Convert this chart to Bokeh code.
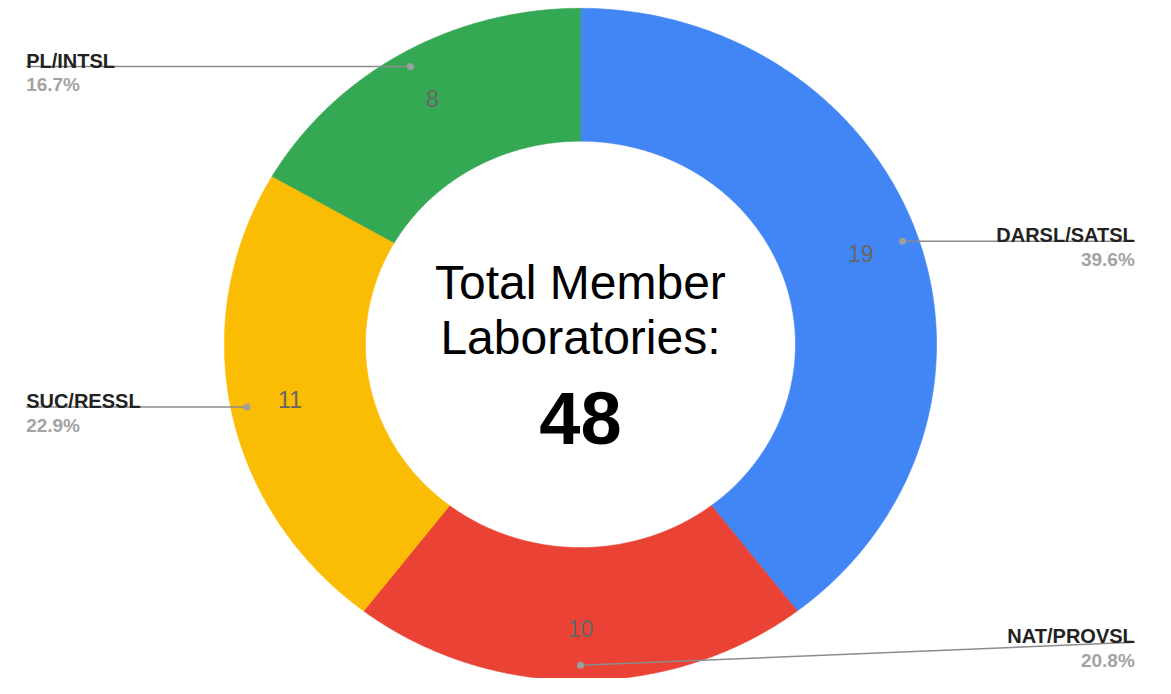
import numpy as np
from bokeh.plotting import figure
from bokeh.models import Range1d, ColumnDataSource
from bokeh.core.properties import value
from bokeh.embed import file_html
from bokeh.resources import INLINE

# ---- data ----
categories = ["DARSL/SATSL", "NAT/PROVSL", "SUC/RESSL", "PL/INTSL"]
counts = [19, 10, 11, 8]
colors = ["#4285F4", "#EA4335", "#FBBC04", "#34A853"]
center_lines = ["Total Member", "Laboratories:"]

total = sum(counts)

# ---- geometry (pixel-like data units) ----
CX, CY = 588, 352
RX_OUT, RY_OUT = 361, 344
RX_IN, RY_IN = 218, 208
LABEL_TX, LABEL_TY = 0.575, 0.61
DOT_F = 0.955
LEFT_X, RIGHT_X = 26, 1150
BOTTOM_LIMIT = 657
FONT = "Liberation Sans"

p = figure(width=1155, height=678, x_range=Range1d(0, 1171), y_range=Range1d(694, 0),
           output_backend="svg", toolbar_location=None, min_border=0)
p.axis.visible = False
p.grid.visible = False
p.outline_line_color = None
p.background_fill_color = "white"
p.border_fill_color = "white"

frac = np.array(counts, dtype=float) / total
ends = np.cumsum(frac) * 2 * np.pi
starts = ends - frac * 2 * np.pi
mids = (starts + ends) / 2

xs, ys = [], []
for a0, a1 in zip(starts, ends):
    t = np.linspace(a0, a1, 240)
    tr = t[::-1]
    xo = CX + RX_OUT * np.sin(t)
    yo = CY - RY_OUT * np.cos(t)
    xi = CX + RX_IN * np.sin(tr)
    yi = CY - RY_IN * np.cos(tr)
    xs.append(list(np.concatenate([xo, xi])))
    ys.append(list(np.concatenate([yo, yi])))

src = ColumnDataSource(dict(xs=xs, ys=ys, color=colors))
p.patches("xs", "ys", source=src, fill_color="color", line_color="color", line_width=0.6)

# value labels inside ring
rxl = RX_IN + LABEL_TX * (RX_OUT - RX_IN)
ryl = RY_IN + LABEL_TY * (RY_OUT - RY_IN)
vx = CX + rxl * np.sin(mids)
vy = CY - ryl * np.cos(mids)
p.text(x=list(vx), y=list(vy), text=[str(c) for c in counts],
       text_font=value(FONT), text_font_size="23px", text_color="#666666",
       text_align="center", text_baseline="middle")

# leader dots and lines
dx = CX + DOT_F * RX_OUT * np.sin(mids)
dy = CY - DOT_F * RY_OUT * np.cos(mids)
right = np.sin(mids) > 0
lx = np.where(right, RIGHT_X, LEFT_X)
ly = np.minimum(dy, BOTTOM_LIMIT)

p.segment(x0=list(dx), y0=list(dy), x1=list(lx), y1=list(ly),
          line_color="#8c8c8c", line_width=1.5)
p.scatter(x=list(dx), y=list(dy), size=7, fill_color="#9e9e9e", line_color=None)

aligns = ["right" if r else "left" for r in right]
pct = [f"{c / total * 100:.1f}%" for c in counts]
name_src = ColumnDataSource(dict(x=list(lx), y=list(ly - 6), t=categories, a=aligns))
pct_src = ColumnDataSource(dict(x=list(lx), y=list(ly + 19), t=pct, a=aligns))
p.text(x="x", y="y", text="t", text_align="a", source=name_src,
       text_font=value(FONT), text_font_size="20px", text_font_style="bold",
       text_color="#222222", text_baseline="alphabetic")
p.text(x="x", y="y", text="t", text_align="a", source=pct_src,
       text_font=value(FONT), text_font_size="19px", text_font_style="bold",
       text_color="#a3a3a3", text_baseline="alphabetic")

# center text
p.text(x=[CX, CX], y=[289, 345], text=center_lines,
       text_font=value(FONT), text_font_size="48px", text_color="#000000",
       text_align="center", text_baseline="alphabetic")
p.text(x=[CX], y=[427], text=[str(total)],
       text_font=value(FONT), text_font_size="74px", text_font_style="bold",
       text_color="#000000", text_align="center", text_baseline="alphabetic")

open("out.html", "w").write(file_html(p, INLINE))
